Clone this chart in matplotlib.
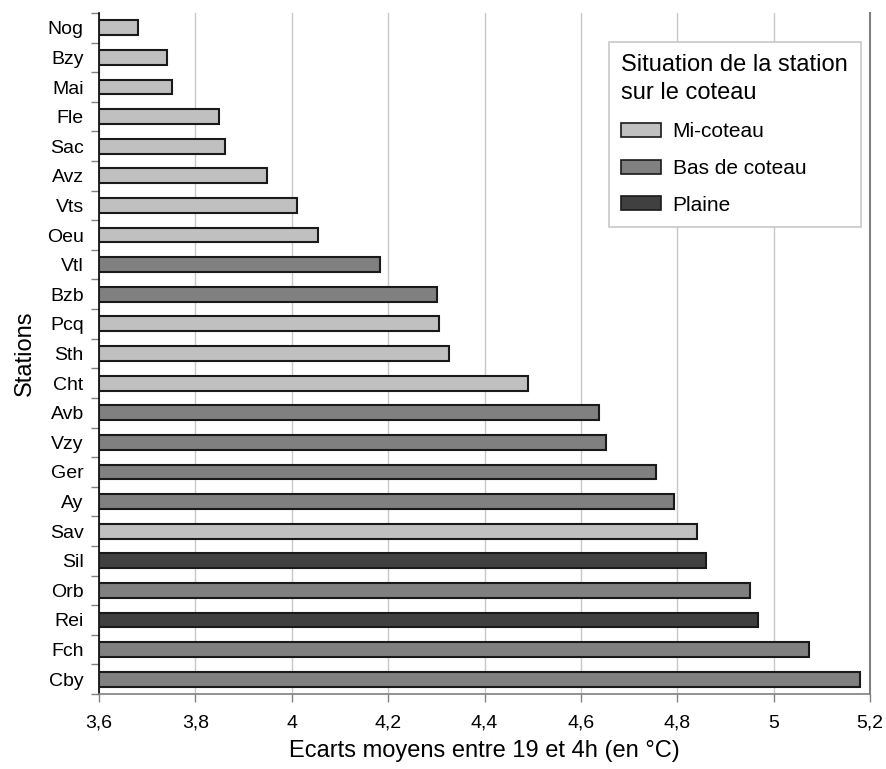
import matplotlib
matplotlib.use("Agg")
import matplotlib.pyplot as plt
from matplotlib.patches import Patch
from matplotlib.ticker import FixedLocator, FuncFormatter

plt.rcParams['font.family'] = ['Liberation Sans', 'DejaVu Sans']

stations = ["Nog", "Bzy", "Mai", "Fle", "Sac", "Avz", "Vts", "Oeu", "Vtl", "Bzb",
            "Pcq", "Sth", "Cht", "Avb", "Vzy", "Ger", "Ay", "Sav", "Sil", "Orb",
            "Rei", "Fch", "Cby"]
values = [3.68, 3.742, 3.751, 3.848, 3.861, 3.949, 4.011, 4.055, 4.183, 4.302,
          4.306, 4.327, 4.491, 4.638, 4.653, 4.756, 4.794, 4.841, 4.860, 4.951,
          4.967, 5.073, 5.18]
situation = ["M", "M", "M", "M", "M", "M", "M", "M", "B", "B",
             "M", "M", "M", "B", "B", "B", "B", "M", "P", "B",
             "P", "B", "B"]
legend_labels = {"M": "Mi-coteau", "B": "Bas de coteau", "P": "Plaine"}
colors = {"M": "#c0c0c0", "B": "#808080", "P": "#404040"}
xticks = [3.6, 3.8, 4.0, 4.2, 4.4, 4.6, 4.8, 5.0, 5.2]

fig = plt.figure(figsize=(8.87, 7.69), dpi=100)
ax = fig.add_axes([99/887, 1 - 694/769, (870-99)/887, (694-13)/769])

y = list(range(len(stations)))
ax.barh(y, [v - 3.6 for v in values], left=3.6, height=0.5,
        color=[colors[s] for s in situation], edgecolor="#1a1a1a", linewidth=1.5,
        zorder=3)
ax.set_ylim(len(stations) - 0.5, -0.5)
ax.set_xlim(3.6, 5.2)

ax.set_yticks(y)
ax.set_yticklabels(stations, fontsize=14)
ax.yaxis.set_minor_locator(FixedLocator([i - 0.5 for i in range(len(stations) + 1)]))
ax.tick_params(axis='y', which='major', length=0, pad=11)
ax.tick_params(axis='y', which='minor', length=6, color="#808080", width=1)

ax.set_xticks(xticks)
ax.xaxis.set_major_formatter(FuncFormatter(lambda v, p: f"{v:g}".replace(".", ",")))
ax.tick_params(axis='x', which='major', length=6, color="#808080", width=1,
               labelsize=14, pad=9)

ax.grid(axis='x', color="#c8c8c8", linewidth=1, zorder=0)
ax.set_axisbelow(True)

ax.spines['top'].set_visible(False)
ax.spines['left'].set_color("#000000")
ax.spines['left'].set_linewidth(1.2)
ax.spines['bottom'].set_color("#808080")
ax.spines['bottom'].set_linewidth(1.2)
ax.spines['right'].set_color("#808080")
ax.spines['right'].set_linewidth(1.5)

ax.set_xlabel("Ecarts moyens entre 19 et 4h (en °C)", fontsize=17, labelpad=6)
ax.set_ylabel("Stations", fontsize=17, labelpad=8)

handles = [Patch(facecolor=colors[k], edgecolor="#1a1a1a", linewidth=1.2, label=legend_labels[k])
           for k in ["M", "B", "P"]]
leg = ax.legend(handles=handles, title="Situation de la station\nsur le coteau",
                loc="upper left", bbox_to_anchor=(609/887, 1 - 42/769),
                bbox_transform=fig.transFigure,
                fontsize=15, title_fontsize=17, frameon=True, fancybox=False,
                edgecolor="#c8c8c8", framealpha=1, borderpad=0.6,
                borderaxespad=0,
                handlelength=1.9, handleheight=0.65, handletextpad=0.55,
                labelspacing=0.85)
leg._legend_box.align = "left"
leg.get_title().set_linespacing(1.35)
leg.get_frame().set_linewidth(1.2)

fig.savefig("out.png", dpi=100)
